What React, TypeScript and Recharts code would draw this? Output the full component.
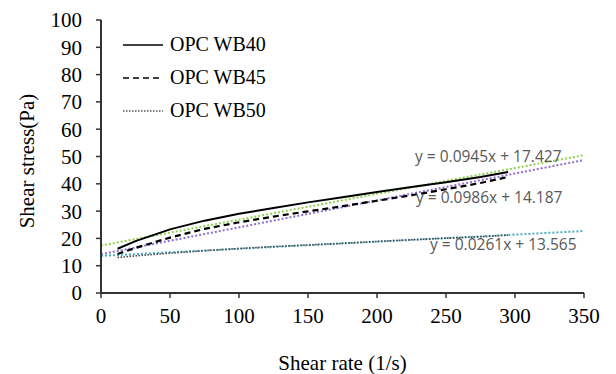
import React from 'react';
import { LineChart, Line, XAxis, YAxis, Legend, ReferenceDot, Label } from 'recharts';

// ---- data ----
const shearRate = [12, 25, 50, 75, 100, 125, 150, 175, 200, 225, 250, 275, 295];
const wb40 = [16.2, 19.0, 23.3, 26.5, 29.0, 31.1, 33.2, 35.1, 37.0, 38.8, 40.6, 42.5, 44.3];
const wb45 = [14.3, 16.5, 20.3, 23.5, 25.9, 28.0, 29.9, 31.8, 33.8, 35.8, 38.0, 40.3, 42.5];
const wb50 = [13.0, 13.6, 14.6, 15.5, 16.3, 17.0, 17.6, 18.2, 18.9, 19.5, 20.1, 20.6, 21.2];

const trendX = [0, 350];
const trend40 = [17.4, 50.5];
const trend45 = [14.2, 48.7];
const trend50 = [13.6, 22.7];

const seriesNames = ['OPC WB40', 'OPC WB45', 'OPC WB50'];
const trendLabels = ['y = 0.0945x + 17.427', 'y = 0.0986x + 14.187', 'y = 0.0261x + 13.565'];

const xTicks = [0, 50, 100, 150, 200, 250, 300, 350];
const yTicks = [0, 10, 20, 30, 40, 50, 60, 70, 80, 90, 100];

const mainRows = shearRate.map((x, i) => ({ x, wb40: wb40[i], wb45: wb45[i], wb50: wb50[i] }));
const trendRows = trendX.map((x, i) => ({ x, t40: trend40[i], t45: trend45[i], t50: trend50[i] }));

const SERIF = '"Liberation Serif", "Times New Roman", serif';
const SANS = '"Open Sans", "Noto Sans", sans-serif';
const AXIS = '#333333';

const legendStyles = [
  { stroke: '#000', dash: undefined as string | undefined, width: 1.5 },
  { stroke: '#000', dash: '6 4', width: 1.5 },
  { stroke: '#555', dash: '1.5 1.5', width: 1.5 },
];

const renderLegend = () => (
  <div style={{ fontFamily: SERIF, fontSize: 20, color: '#000' }}>
    {seriesNames.map((name, i) => (
      <div key={name} style={{ display: 'flex', alignItems: 'center', height: 33 }}>
        <svg width={40} height={10} style={{ display: 'block' }}>
          <line x1={0} y1={5} x2={40} y2={5} stroke={legendStyles[i].stroke}
            strokeWidth={legendStyles[i].width} strokeDasharray={legendStyles[i].dash} />
        </svg>
        <span style={{ marginLeft: 7, lineHeight: '33px', whiteSpace: 'nowrap' }}>{name}</span>
      </div>
    ))}
  </div>
);

const tickStyle = { fontFamily: SERIF, fontSize: 21, fill: '#000' };
const trendLabelStyle = { fontFamily: SANS, fontSize: 15.5, fill: '#595959' };

export default function App() {
  return (
    <LineChart width={600} height={366} margin={{ top: 12, right: 24, bottom: 0, left: 0 }}>
      <XAxis
        dataKey="x"
        type="number"
        domain={[0, 350]}
        ticks={xTicks}
        interval={0}
        allowDataOverflow
        height={81}
        tick={tickStyle}
        tickSize={5}
        tickMargin={10}
        axisLine={{ stroke: AXIS, strokeWidth: 2 }}
        tickLine={{ stroke: AXIS, strokeWidth: 1.5 }}
      >
        <Label value="Shear rate (1/s)" position="insideBottom" offset={4}
          style={{ fontFamily: SERIF, fontSize: 21, fill: '#000' }} />
      </XAxis>
      <YAxis
        type="number"
        domain={[0, 100]}
        ticks={yTicks}
        interval={0}
        width={93}
        tick={tickStyle}
        tickSize={5}
        tickMargin={14}
        axisLine={{ stroke: AXIS, strokeWidth: 2 }}
        tickLine={{ stroke: AXIS, strokeWidth: 1.5 }}
      >
        <Label
          content={() => (
            <text x={19} y={153} transform="rotate(-90 19 153)" textAnchor="middle"
              dominantBaseline="central" style={{ fontFamily: SERIF, fontSize: 21, fill: '#000' }}>
              Shear stress(Pa)
            </text>
          )}
        />
      </YAxis>
      <XAxis xAxisId="top" orientation="top" type="number" domain={[0, 350]} height={0}
        tick={false} tickLine={false} axisLine={{ stroke: AXIS, strokeWidth: 2 }} />
      <YAxis yAxisId="right" orientation="right" domain={[0, 100]} width={0}
        tick={false} tickLine={false} axisLine={{ stroke: AXIS, strokeWidth: 2 }} />

      <Legend layout="horizontal" verticalAlign="middle" align="center"
        wrapperStyle={{ left: 115, top: 20, width: 200 }} content={renderLegend} />

      <Line data={trendRows} dataKey="t40" stroke="#92D050" strokeWidth={2} strokeDasharray="2 2"
        dot={false} isAnimationActive={false} legendType="none" />
      <Line data={trendRows} dataKey="t45" stroke="#8E6FD0" strokeWidth={2} strokeDasharray="2 2"
        dot={false} isAnimationActive={false} legendType="none" />
      <Line data={trendRows} dataKey="t50" stroke="#4BACC6" strokeWidth={2} strokeDasharray="2 2"
        dot={false} isAnimationActive={false} legendType="none" />

      <Line data={mainRows} dataKey="wb40" name={seriesNames[0]} stroke="#000" strokeWidth={2}
        dot={false} isAnimationActive={false} />
      <Line data={mainRows} dataKey="wb45" name={seriesNames[1]} stroke="#000" strokeWidth={2.2}
        strokeDasharray="6 4" dot={false} isAnimationActive={false} />
      <Line data={mainRows} dataKey="wb50" name={seriesNames[2]} stroke="#444" strokeWidth={1.6}
        strokeDasharray="1.5 1.5" dot={false} isAnimationActive={false} />

      <ReferenceDot x={333.7} y={50.1} r={0} ifOverflow="visible"
        label={{ value: trendLabels[0], position: 'left', offset: 0, ...trendLabelStyle }} />
      <ReferenceDot x={334.4} y={35.1} r={0} ifOverflow="visible"
        label={{ value: trendLabels[1], position: 'left', offset: 0, ...trendLabelStyle }} />
      <ReferenceDot x={344.6} y={17.6} r={0} ifOverflow="visible"
        label={{ value: trendLabels[2], position: 'left', offset: 0, ...trendLabelStyle }} />
    </LineChart>
  );
}
